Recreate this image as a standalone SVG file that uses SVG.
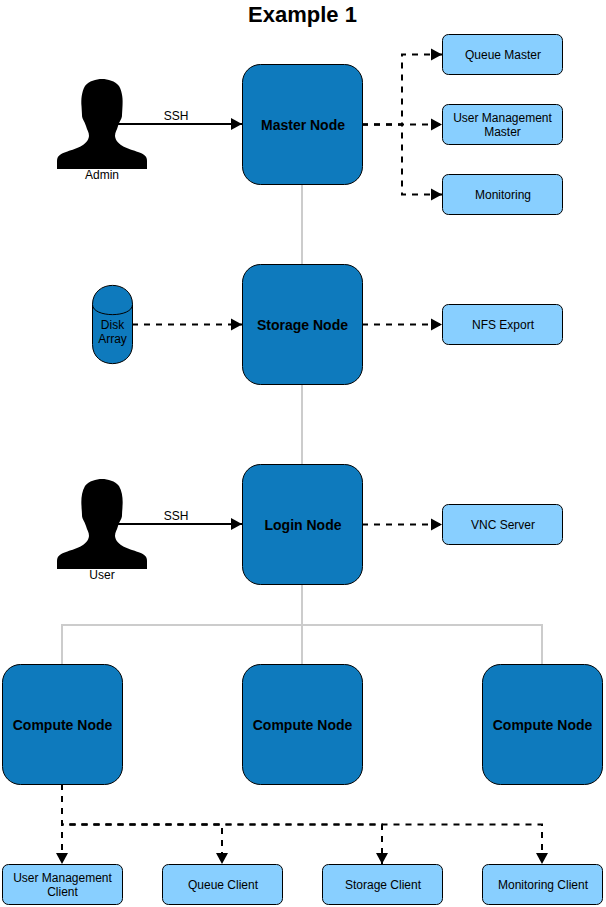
<svg xmlns="http://www.w3.org/2000/svg" width="606" height="907" viewBox="0 0 606 907">
<style>
text{font-family:"Liberation Sans",Arial,sans-serif;font-size:12px;text-anchor:middle;fill:#000}
.big{fill:#0e7abd;stroke:#000;stroke-width:1}
.small{fill:#88cfff;stroke:#000;stroke-width:1}
.b{font-weight:bold;font-size:14px}
.g{fill:none;stroke:#cccccc;stroke-width:2}
.s{fill:none;stroke:#000;stroke-width:2}
.d{fill:none;stroke:#000;stroke-width:2;stroke-dasharray:6 6}
</style>
<defs>
<marker id="a" markerUnits="userSpaceOnUse" markerWidth="12" markerHeight="14" refX="11" refY="7" orient="auto"><path d="M0 1L11 7L0 13Z" fill="#000"/></marker>
<path id="person" fill="#000" d="M57 169V161C57 156 60 154 66 152C74 149 88 146 89 136C89 132 87 130 86 126C84 120 82 119 82 115C82 112 81.500 109 81.500 106C81 100 81.500 92 85 86C89 81 96 79 102 79C108 79 115 81 119 86C122.500 92 123 100 122.500 106C122.500 109 122 112 122 115C122 119 120 120 118 126C117 130 115 132 115 136C116 146 130 149 138 152C144 154 147 156 147 161V169Z"/>
</defs>
<text x="302.500" y="22" style="font-size:22px;font-weight:bold">Example 1</text>
<g id="connectors">
<path class="g" d="M302 184V264M302 384V464M302 584V664M62 664V625H542V664"/>
<path class="s" d="M112 124H242" marker-end="url(#a)"/>
<path class="s" d="M112 524H242" marker-end="url(#a)"/>
<path class="d" d="M362 124.500H442" marker-end="url(#a)"/>
<path class="d" d="M362 124.500H402V54.500H442" marker-end="url(#a)"/>
<path class="d" d="M362 124.500H402V194.500H442" marker-end="url(#a)"/>
<path class="d" d="M132 324.500H242" marker-end="url(#a)"/>
<path class="d" d="M362 324.500H442" marker-end="url(#a)"/>
<path class="d" d="M362 524.500H442" marker-end="url(#a)"/>
<path class="d" d="M62 784V864" marker-end="url(#a)"/>
<path class="d" d="M62 784V824.500H222V864" marker-end="url(#a)"/>
<path class="d" d="M62 784V824.500H382V864" marker-end="url(#a)"/>
<path class="d" d="M62 784V824.500H542V864" marker-end="url(#a)"/>
<text x="176" y="120">SSH</text>
<text x="176" y="520">SSH</text>
</g>
<g id="admin"><use href="#person"/><text x="102" y="179">Admin</text></g>
<g id="user"><use href="#person" y="400"/><text x="102" y="579">User</text></g>
<g id="disk-array">
<path class="big" d="M92.500 304.500C92.500 279 132.500 279 132.500 304.500V344.500C132.500 370 92.500 370 92.500 344.500Z"/>
<path class="big" style="fill:none" d="M92.500 304.500C92.500 318 132.500 318 132.500 304.500"/>
<text x="112.500" y="329">Disk</text><text x="112.500" y="343">Array</text>
</g>
<g id="master-node"><rect class="big" x="242.500" y="64.500" width="120" height="120" rx="18"/><text class="b" x="303" y="129.500">Master Node</text></g>
<g id="storage-node"><rect class="big" x="242.500" y="264.500" width="120" height="120" rx="18"/><text class="b" x="302.500" y="329.500">Storage Node</text></g>
<g id="login-node"><rect class="big" x="242.500" y="464.500" width="120" height="120" rx="18"/><text class="b" x="303" y="529.500">Login Node</text></g>
<g id="compute-node-1"><rect class="big" x="2.500" y="664.500" width="120" height="120" rx="18"/><text class="b" x="62.500" y="729.500">Compute Node</text></g>
<g id="compute-node-2"><rect class="big" x="242.500" y="664.500" width="120" height="120" rx="18"/><text class="b" x="302.500" y="729.500">Compute Node</text></g>
<g id="compute-node-3"><rect class="big" x="482.500" y="664.500" width="120" height="120" rx="18"/><text class="b" x="542.500" y="729.500">Compute Node</text></g>
<g id="queue-master"><rect class="small" x="442.500" y="34.500" width="120" height="40" rx="6"/><text x="503" y="59">Queue Master</text></g>
<g id="user-management-master"><rect class="small" x="442.500" y="104.500" width="120" height="40" rx="6"/><text x="502.500" y="122">User Management</text><text x="502.500" y="136">Master</text></g>
<g id="monitoring"><rect class="small" x="442.500" y="174.500" width="120" height="40" rx="6"/><text x="503" y="199">Monitoring</text></g>
<g id="nfs-export"><rect class="small" x="442.500" y="304.500" width="120" height="40" rx="6"/><text x="503" y="329">NFS Export</text></g>
<g id="vnc-server"><rect class="small" x="442.500" y="504.500" width="120" height="40" rx="6"/><text x="503" y="529">VNC Server</text></g>
<g id="user-management-client"><rect class="small" x="2.500" y="864.500" width="120" height="40" rx="6"/><text x="62.500" y="882">User Management</text><text x="62.500" y="896">Client</text></g>
<g id="queue-client"><rect class="small" x="162.500" y="864.500" width="120" height="40" rx="6"/><text x="223" y="889">Queue Client</text></g>
<g id="storage-client"><rect class="small" x="322.500" y="864.500" width="120" height="40" rx="6"/><text x="383" y="889">Storage Client</text></g>
<g id="monitoring-client"><rect class="small" x="482.500" y="864.500" width="120" height="40" rx="6"/><text x="543" y="889">Monitoring Client</text></g>
</svg>
